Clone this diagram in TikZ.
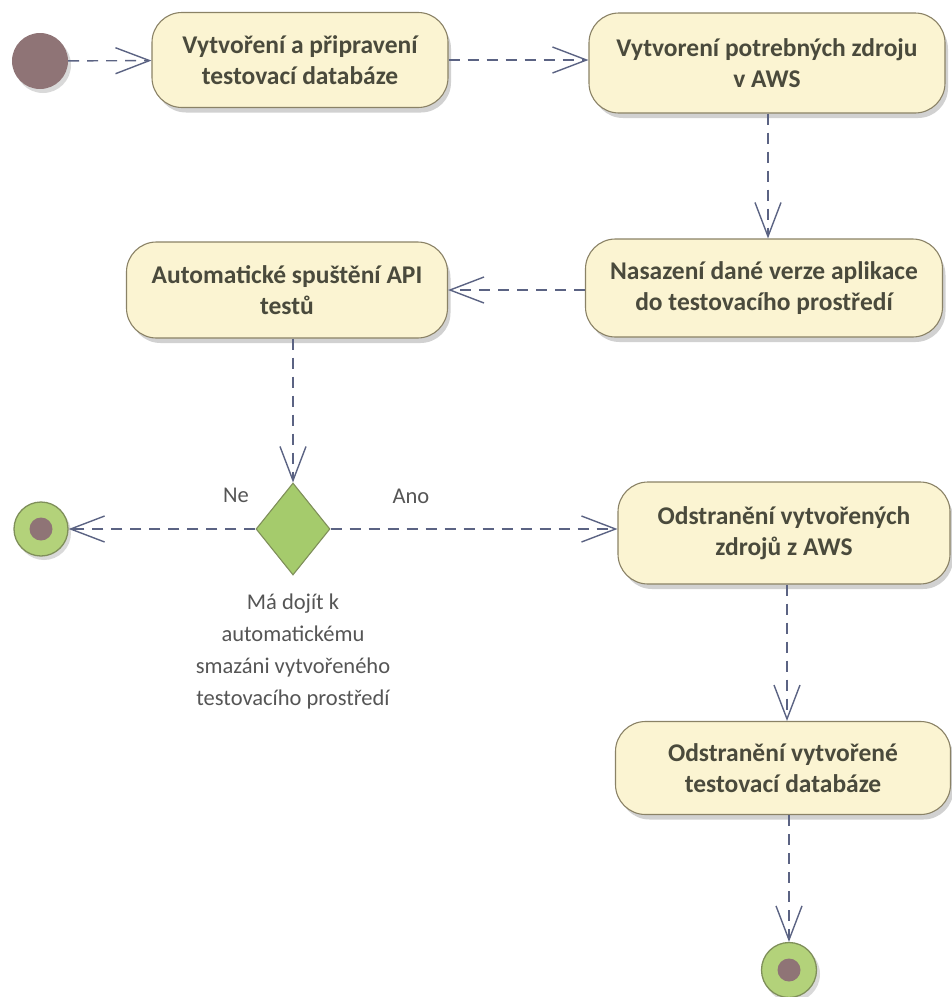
\documentclass[tikz,border=0pt]{standalone}
\usepackage{fontspec}
\setmainfont{Carlito}
\usetikzlibrary{arrows.meta,shapes.geometric}
\definecolor{boxfill}{HTML}{FBF4D2}
\definecolor{boxline}{HTML}{8A8266}
\definecolor{boxtext}{HTML}{4A4A3C}
\definecolor{arrowc}{HTML}{5B6383}
\definecolor{startc}{HTML}{8F7476}
\definecolor{greenc}{HTML}{B3D27A}
\definecolor{greenline}{HTML}{7F8F5A}
\definecolor{diamfill}{HTML}{A5CB6C}
\definecolor{labelc}{HTML}{555555}
\tikzset{
  actbox/.style={draw=boxline, line width=1.1pt, fill=boxfill, rounded corners=30pt,
    align=center, text=boxtext, font=\fontsize{25.5}{31}\selectfont\bfseries, inner sep=0pt},
  boxshadow/.style={fill=black, opacity=0.18, rounded corners=30pt},
  flow/.style={draw=arrowc, line width=1.4pt, dash pattern=on 11pt off 8pt,
    -{Straight Barb[length=34pt,width=26pt,line width=1.4pt]}},
  lbl/.style={text=labelc, font=\fontsize{22.5}{32}\selectfont, align=center, inner sep=0pt},
}
\begin{document}
\begin{tikzpicture}[x=1pt,y=-1pt]
\useasboundingbox (0,0) rectangle (952,997);
% shadows
\foreach \cx/\cy/\w/\h in {300/60/296/95, 767/63/356/100, 764/288/357/98, 287/290/321/96, 784/533/332/102, 783/768/335/93}{
  \fill[boxshadow] (\cx-\w/2+4,\cy-\h/2+6) rectangle (\cx+\w/2+3,\cy+\h/2+5);
}
\fill[black,opacity=0.15] (43,65) circle (28);
\fill[black,opacity=0.15] (44,533) circle (27);
\fill[black,opacity=0.15] (792,974) circle (28);

\node[circle, fill=startc, minimum size=56pt, inner sep=0pt] (start) at (40,61) {};
\node[actbox, minimum width=296pt, minimum height=95pt] (b1) at (300,60) {Vytvoření a připravení\\testovací databáze};
\node[actbox, minimum width=356pt, minimum height=100pt] (b2) at (767,63) {Vytvorení potrebných zdroju\\v AWS};
\node[actbox, minimum width=357pt, minimum height=98pt] (b3) at (764,288) {Nasazení dané verze aplikace\\do testovacího prostředí};
\node[actbox, minimum width=321pt, minimum height=96pt] (b4) at (287,290) {Automatické spuštění API\\testů};
\node[diamond, draw=greenline, line width=1.1pt, fill=diamfill, minimum width=74pt, minimum height=92pt, inner sep=0pt, aspect=0.8] (d) at (293,529) {};
\node[circle, draw=greenline, line width=1.3pt, fill=greenc, minimum size=54pt, inner sep=0pt] (e1) at (41,529) {};
\fill[startc] (e1.center) circle (11.5);
\node[actbox, minimum width=332pt, minimum height=102pt] (b5) at (784,533) {Odstranění vytvořených\\zdrojů z AWS};
\node[actbox, minimum width=335pt, minimum height=93pt] (b6) at (783,768) {Odstranění vytvořené\\testovací databáze};
\node[circle, draw=greenline, line width=1.3pt, fill=greenc, minimum size=55pt, inner sep=0pt] (e2) at (789,970) {};
\fill[startc] (e2.center) circle (11.5);

\draw[flow] (start) -- (b1);
\draw[flow] (b1) -- (b2.west |- b1.east);
\draw[flow] (b2.south -| 768,0) -- (b3.north -| 768,0);
\draw[flow] (b3.west |- b4.east) -- (b4.east);
\draw[flow] (b4.south -| d.north) -- (d.north);
\draw[flow] (d.west) -- (e1.east);
\draw[flow] (d.east) -- (b5.west |- d.east);
\draw[flow] (b5.south -| 787,0) -- (b6.north -| 787,0);
\draw[flow] (b6.south -| e2.north) -- (e2.north);

\node[lbl] (ne) at (236,495) {Ne};
\node[lbl] (ano) at (411,496) {Ano};
\node[lbl, anchor=north] (cond) at (293,594) {Má dojít k\\automatickému\\smazáni vytvořeného\\testovacího prostředí};
\end{tikzpicture}
\end{document}
